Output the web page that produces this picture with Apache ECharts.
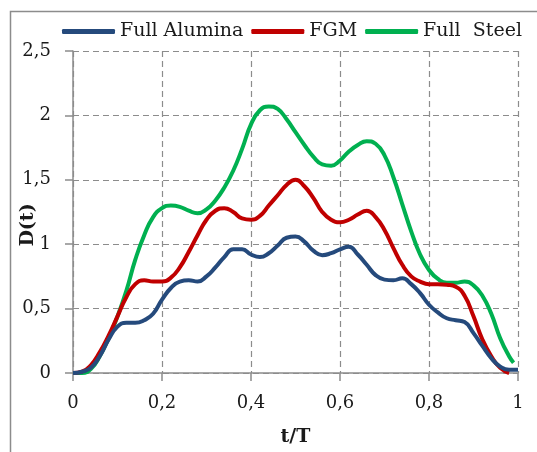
<!DOCTYPE html>
<html>
<head>
<meta charset="utf-8">
<script src="https://cdn.jsdelivr.net/npm/echarts@6/dist/echarts.min.js"></script>
<style>
html,body{margin:0;padding:0;background:#fff;}
#chart{width:537px;height:452px;}
</style>
</head>
<body>
<div id="chart"></div>
<script>
// t/T sample positions
var tValues = [0,0.02,0.04,0.06,0.08,0.10,0.12,0.14,0.16,0.18,0.20,0.22,0.24,0.26,0.28,0.30,0.32,0.34,0.36,0.38,0.40,0.42,0.44,0.46,0.48,0.50,0.52,0.54,0.56,0.58,0.60,0.62,0.64,0.66,0.68,0.70,0.72,0.74,0.76,0.78,0.80,0.82,0.84,0.86,0.88,0.90,0.92,0.94,0.96,0.98,0.99,1.00];
var fullAlumina = [0,0.01,0.04,0.13,0.26,0.36,0.39,0.39,0.41,0.46,0.57,0.66,0.71,0.72,0.71,0.75,0.82,0.90,0.96,0.96,0.92,0.90,0.93,0.99,1.05,1.06,1.02,0.95,0.915,0.93,0.96,0.98,0.92,0.84,0.76,0.725,0.72,0.735,0.69,0.62,0.53,0.47,0.425,0.41,0.395,0.31,0.21,0.115,0.05,0.025,0.025,0.025];
var fgm = [0,0.01,0.06,0.16,0.29,0.44,0.59,0.69,0.72,0.71,0.71,0.74,0.82,0.94,1.07,1.19,1.26,1.28,1.25,1.20,1.19,1.22,1.30,1.38,1.46,1.50,1.45,1.36,1.25,1.19,1.17,1.19,1.23,1.26,1.21,1.11,0.97,0.84,0.75,0.71,0.69,0.69,0.685,0.67,0.60,0.44,0.26,0.13,0.04,0.0,null,null];
var fullSteel = [0,0,0.03,0.13,0.27,0.44,0.64,0.88,1.07,1.21,1.28,1.30,1.29,1.26,1.24,1.27,1.34,1.44,1.57,1.74,1.93,2.04,2.07,2.05,1.97,1.87,1.77,1.68,1.62,1.61,1.65,1.72,1.77,1.80,1.78,1.69,1.52,1.31,1.10,0.92,0.80,0.73,0.70,0.70,0.71,0.68,0.60,0.46,0.27,0.13,0.08,null];
var seriesNames = ['Full Alumina','FGM','Full  Steel'];
var xTicks = [0,0.2,0.4,0.6,0.8,1];
var yTicks = [0,0.5,1,1.5,2,2.5];

function pairs(arr){
  var out = [];
  for (var i=0;i<tValues.length;i++){ if(arr[i]!==null) out.push([tValues[i], arr[i]]); }
  return out;
}
function fmt(v){ return String(v).replace('.', ','); }

var chart = echarts.init(document.getElementById('chart'), null, {renderer:'canvas'});
var FONT = 'DejaVu Serif';
var colors = ['#254a7c','#c00000','#00b050'];
var dataSets = [fullAlumina, fgm, fullSteel];

chart.setOption({
  backgroundColor:'#fff',
  animation:false,
  color: colors,
  graphic:[{
    type:'rect', left:8, top:9, shape:{x:0,y:0,width:560,height:480},
    style:{fill:'none', stroke:'#8c8c8c', lineWidth:1.5}, silent:true, z:-10
  }],
  legend:{
    data: seriesNames.map(function(n){ return {name:n, icon:'roundRect'}; }),
    left: 57, top: 17,
    itemWidth: 53, itemHeight: 5, itemGap: 8,
    textStyle:{fontFamily:FONT, fontSize:19, color:'#1a1a1a'}
  },
  grid:{left:73, right:19, top:51, bottom:79, containLabel:false, outerBoundsMode:'none'},
  xAxis:{
    type:'value', min:0, max:1, interval:0.2,
    name:'t/T', nameLocation:'middle', nameGap:55, nameMoveOverlap:false,
    nameTextStyle:{fontFamily:FONT, fontSize:19, fontWeight:'bold', color:'#1a1a1a'},
    axisLine:{show:true, onZero:false, lineStyle:{color:'#8c8c8c', width:1.5}},
    axisTick:{show:true, length:8, lineStyle:{color:'#8c8c8c', width:1.5}},
    axisLabel:{fontFamily:FONT, fontSize:18, color:'#1a1a1a', margin:21, formatter:fmt},
    splitLine:{show:true, lineStyle:{color:'#8c8c8c', type:[6,4], width:1.2}}
  },
  yAxis:{
    type:'value', min:0, max:2.5, interval:0.5,
    name:'D(t)', nameLocation:'middle', nameGap:35, nameRotate:90, nameMoveOverlap:false,
    nameTextStyle:{fontFamily:FONT, fontSize:19, fontWeight:'bold', color:'#1a1a1a', padding:[0,26,0,0]},
    axisLine:{show:true, lineStyle:{color:'#8c8c8c', width:1.5}},
    axisTick:{show:true, length:8, lineStyle:{color:'#8c8c8c', width:1.5}},
    axisLabel:{fontFamily:FONT, fontSize:18, color:'#1a1a1a', margin:22, formatter:fmt},
    splitLine:{show:true, lineStyle:{color:'#8c8c8c', type:[6,4], width:1.2}}
  },
  series: seriesNames.map(function(n,i){
    return {
      name:n, type:'line', data:pairs(dataSets[i]), smooth:0.5,
      symbol:'none', lineStyle:{width:4, color:colors[i]}, z: 3 - i
    };
  })
});
</script>
</body>
</html>
